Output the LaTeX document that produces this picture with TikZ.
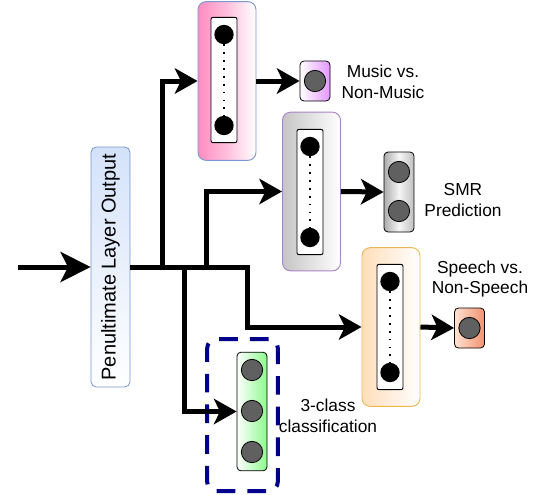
\documentclass[tikz,border=0pt]{standalone}
\usepackage{fontspec}
\setmainfont{Liberation Sans}
\usepackage{xcolor}
\usepackage{tikz}
\usetikzlibrary{arrows.meta,positioning}

\definecolor{pinkL}{RGB}{255,140,192}
\definecolor{grayL}{RGB}{196,196,196}
\definecolor{orangeL}{RGB}{255,222,186}
\definecolor{greenR}{RGB}{140,250,140}
\definecolor{violetR}{RGB}{228,150,255}
\definecolor{salmonR}{RGB}{242,146,110}
\definecolor{salmonL}{RGB}{255,226,210}
\definecolor{blueL}{RGB}{212,226,250}
\definecolor{blueB}{RGB}{120,150,210}
\definecolor{purpleB}{RGB}{170,130,200}
\definecolor{orangeB}{RGB}{232,184,84}
\definecolor{dashblue}{RGB}{0,0,140}
\definecolor{unitgray}{RGB}{96,96,96}

\begin{document}
\begin{tikzpicture}[x=0.75pt,y=-0.75pt,
    flow/.style={line width=3.75pt,-{Stealth[length=17pt,width=19pt,inset=4.5pt]}},
    hidbox/.style={rounded corners=6pt,line width=0.7pt,right color=white,
      minimum width=43.5pt,minimum height=119pt},
    layer/.style={draw,fill=white,rounded corners=1.5pt,line width=0.7pt,
      minimum width=19.5pt,minimum height=94pt},
    unit/.style={circle,fill=black,inner sep=0pt,minimum size=14.5pt},
    outbox/.style={draw,rounded corners=3pt,line width=0.6pt,minimum width=22.5pt},
    outunit/.style={circle,draw,fill=unitgray,line width=0.6pt,inner sep=0pt,minimum size=16pt},
    txt/.style={align=center,font=\fontsize{13}{15.6}\selectfont}]
  \useasboundingbox (0,0) rectangle (533,494);

  % penultimate layer
  \node[draw=blueB,left color=blueL,right color=white,shading angle=0,rounded corners=4pt,
    line width=0.6pt,minimum width=29.25pt,minimum height=180pt] (pen) at (110.5,267) {};
  \node[rotate=90,font=\fontsize{15}{18}\selectfont] (pentxt) at (pen) {Penultimate Layer Output};
  \coordinate (in) at (18,267);

  % hidden layers
  \node[hidbox,draw=blueB,left color=pinkL,right color=white,middle color=pinkL!55] (pink) at (227,81) {};
  \node[hidbox,draw=purpleB,left color=grayL] (gray) at (311.5,191.5) {};
  \node[hidbox,draw=orangeB,left color=orangeL] (orange) at (391,327) {};
  \foreach \b/\x/\y in {pink/224/80, gray/310/192, orange/390/327}{
    \node[layer] (\b lay) at (\x,\y) {};
    \node[unit] (\b top) at (\x,\y-45.5) {};
    \node[unit] (\b bot) at (\x,\y+45.5) {};
    \draw[line width=1.3pt,dash pattern=on 1.3pt off 4.6pt] (\b top) -- (\b bot);
  }

  % output layers
  \node[outbox,left color=white,right color=violetR,minimum height=30pt] (music) at (315,81) {};
  \node[outunit] (musicu) at (music) {};
  \node[outbox,left color=gray!65,right color=gray!50,middle color=gray!8,minimum height=60pt] (smr) at (399,192) {};
  \node[outunit] (smru1) at (399,172) {};
  \node[outunit] (smru2) at (399,211) {};
  \node[outbox,left color=salmonL,right color=salmonR,minimum height=30pt] (speech) at (469.5,328) {};
  \node[outunit] (speechu) at (speech) {};
  \node[outbox,left color=white,right color=greenR,minimum height=89pt] (three) at (252,411.5) {};
  \foreach \y [count=\i] in {370,411,452}
    \node[outunit] (threeu\i) at (252,\y) {};
  \node[draw=dashblue,line width=3pt,dash pattern=on 14pt off 9pt,rounded corners=7pt,
    minimum width=53pt,minimum height=114pt] (dash) at (242.5,415) {};

  % labels
  \node[txt] (musiclbl) at (383,82) {Music vs.\\Non-Music};
  \node[txt] (smrlbl) at (463,200) {SMR\\Prediction};
  \node[txt] (speechlbl) at (480,279) {Speech vs.\\Non-Speech};
  \node[txt] (threelbl) at (328,416) {3-class\\classification};

  % connectors
  \coordinate (b1) at (162,267);
  \coordinate (b2) at (184,267);
  \coordinate (b3) at (206,267);
  \coordinate (b4) at (247,267);
  \draw[line width=3.75pt,-{Stealth[length=22.5pt,width=22.5pt,inset=5.5pt]}] (in) -- (pen.west);
  \draw[flow] (pen.east) -- (b4) |- (orange.west);
  \draw[flow] (b1) |- (pink.west);
  \draw[flow] (b3) |- (gray.west);
  \draw[flow] (b2) |- (three.west);
  \draw[flow] (pink.east) -- (music.west);
  \draw[flow] (gray.east) -- (smr.west);
  \draw[flow] (orange.east) -- (speech.west);
\end{tikzpicture}
\end{document}
